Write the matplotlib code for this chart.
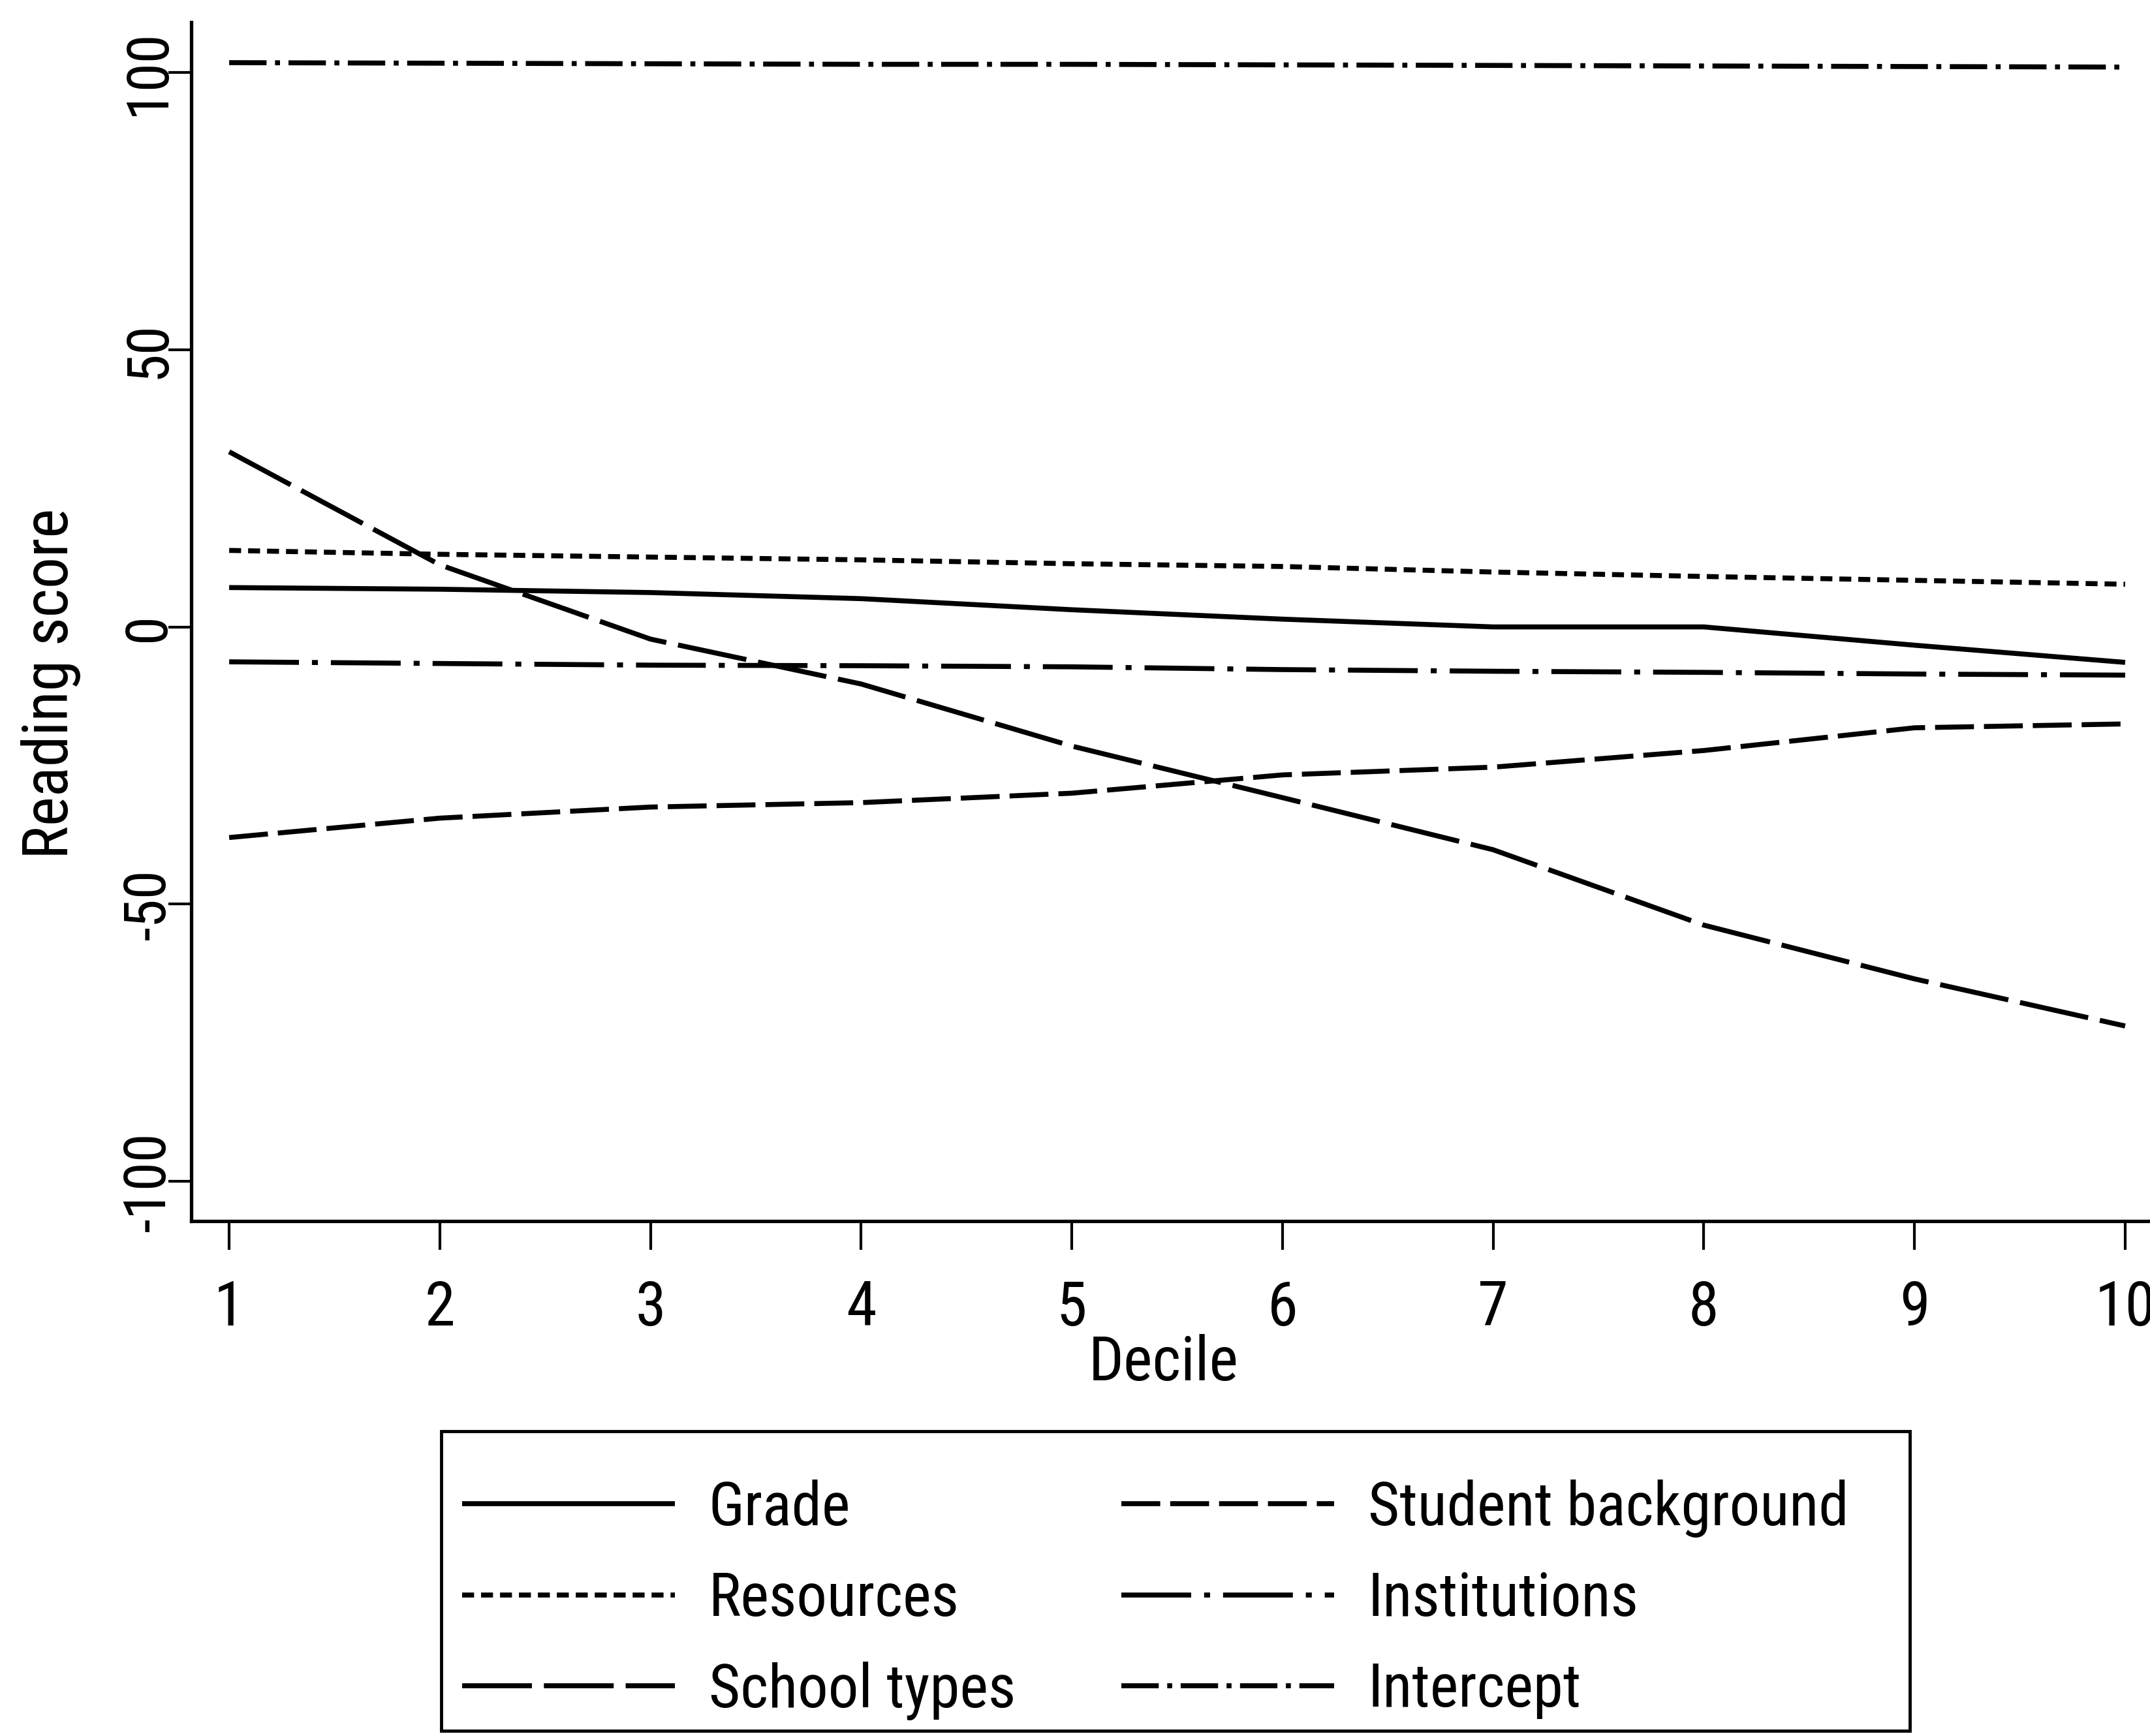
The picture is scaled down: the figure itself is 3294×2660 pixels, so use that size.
import os
import matplotlib
matplotlib.use("Agg")
import matplotlib.pyplot as plt
from matplotlib import font_manager
from matplotlib.patches import Rectangle

# ---- data ----
deciles = [1, 2, 3, 4, 5, 6, 7, 8, 9, 10]
grade = [7.1, 6.8, 6.2, 5.1, 3.1, 1.4, 0.0, 0.0, -3.3, -6.4]
resources = [13.8, 13.1, 12.6, 12.1, 11.4, 10.9, 9.9, 9.1, 8.4, 7.7]
school_types = [31.6, 11.2, -2.2, -10.3, -21.5, -30.8, -40.2, -53.8, -63.5, -72.0]
student_background = [-38.0, -34.5, -32.5, -31.7, -30.0, -26.7, -25.3, -22.3, -18.2, -17.5]
institutions = [-6.3, -6.6, -6.9, -7.0, -7.2, -7.7, -8.0, -8.2, -8.5, -8.7]
intercept = [101.8, 101.7, 101.6, 101.5, 101.5, 101.4, 101.3, 101.2, 101.1, 101.0]

series_labels = ["Grade", "Resources", "School types",
                 "Student background", "Institutions", "Intercept"]
x_ticks = [1, 2, 3, 4, 5, 6, 7, 8, 9, 10]
y_ticks = [-100, -50, 0, 50, 100]
y_tick_labels = ["-100", "-50", "0", "50", "100"]


# ---- font: prefer an installed condensed sans ----
def pick_condensed():
    best = None
    for f in font_manager.fontManager.ttflist:
        base = os.path.basename(f.fname).lower()
        nm = f.name.lower()
        if f.style != "normal":
            continue
        if f.weight not in (400, "normal", "regular", "book"):
            continue
        if "mono" in base or "mono" in nm:
            continue
        if "serif" in nm.replace("sans", "") and "sans" not in nm:
            continue
        st = str(f.stretch).lower()
        cond = ("narrow" in base or "condensed" in base or "narrow" in nm
                or "condensed" in nm or st in ("condensed", "semi-condensed"))
        if not cond or "extra" in base or "ultra" in base or "semi" in base:
            continue
        if "liberation" in nm:
            rank = 0
        elif "roboto" in nm:
            rank = 1
        elif "open sans" in nm:
            rank = 2
        elif "noto sans" in nm and "cjk" not in nm:
            rank = 3
        elif "dejavu" in nm:
            rank = 4
        else:
            rank = 5
        if best is None or rank < best[0]:
            best = (rank, f.name, f.stretch)
    return best


cf = pick_condensed()
if cf is not None:
    plt.rcParams["font.family"] = [cf[1], "DejaVu Sans"]
    plt.rcParams["font.stretch"] = cf[2]
    leg_fs = 67
    colsp = 1.74
else:
    plt.rcParams["font.family"] = ["Liberation Sans", "DejaVu Sans"]
    leg_fs = 60
    colsp = 1.72
plt.rcParams["axes.unicode_minus"] = False

W, H = 3294, 2660
fig = plt.figure(figsize=(W / 100, H / 100), dpi=100)
ax = fig.add_axes([0.08895, 0.2966, 0.91105, 0.69062])

LW = 5.5
styles = [
    dict(linestyle="-"),
    dict(linestyle=(0, (2.4, 1.4))),
    dict(linestyle=(0, (14, 2.4))),
    dict(linestyle=(0, (7.8, 2.0))),
    dict(linestyle=(0, (14, 2.6, 1.2, 2.6))),
    dict(linestyle=(0, (7.5, 1.7, 1.0, 1.7))),
]
data = [grade, resources, school_types, student_background, institutions, intercept]
for vals, lab, st in zip(data, series_labels, styles):
    ax.plot(deciles, vals, color="black", linewidth=LW, label=lab,
            dash_capstyle="butt", solid_capstyle="butt", **st)

ax.set_xlim(0.82, 10.118)
ax.set_ylim(-107.2, 109.1)

for s in ["top", "right"]:
    ax.spines[s].set_visible(False)
for s in ["left", "bottom"]:
    ax.spines[s].set_linewidth(3.8)
    ax.spines[s].set_color("black")

ax.set_xticks(x_ticks)
ax.set_xticklabels([str(t) for t in x_ticks])
ax.set_yticks(y_ticks)
ax.set_yticklabels(y_tick_labels)

ax.tick_params(axis="x", direction="out", length=32, width=3, pad=32, labelsize=68)
ax.tick_params(axis="y", direction="out", length=25, width=3, pad=22, labelsize=64,
               labelrotation=90)
for lbl in ax.get_yticklabels():
    lbl.set_va("center")
    lbl.set_ha("center")
    lbl.set_rotation_mode("anchor")

ax.set_xlabel("Decile", fontsize=68, va="baseline")
ax.xaxis.set_label_coords(0.4965, -0.1328)
ax.set_ylabel("Reading score", fontsize=69, va="center")
ax.yaxis.set_label_coords(-0.0716, 0.4486)

# legend entries (frame drawn separately to match the reference box)
leg = ax.legend(ncol=2, loc="upper left",
                bbox_to_anchor=(708 / W, 1 - 2267 / H),
                bbox_transform=fig.transFigure,
                fontsize=leg_fs, frameon=False,
                handlelength=3.5, handletextpad=0.56, labelspacing=0.54,
                columnspacing=colsp, borderpad=0.0, borderaxespad=0)
for h in leg.get_lines():
    h.set_linewidth(LW)

box = Rectangle((676 / W, 1 - 2652 / H), (2926 - 676) / W, (2652 - 2193) / H,
                transform=fig.transFigure, fill=False, edgecolor="black",
                linewidth=3.5, zorder=5)
fig.patches.append(box)

fig.savefig("out.png", dpi=100, facecolor="white")
